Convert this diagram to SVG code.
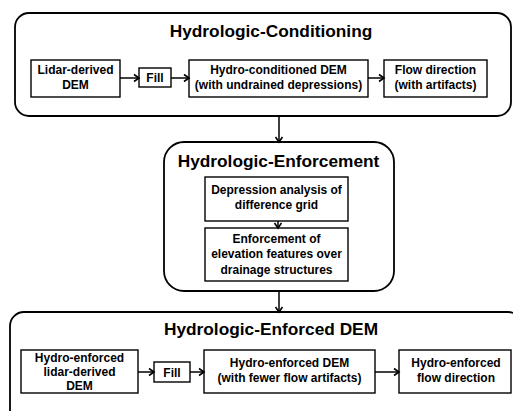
<svg xmlns="http://www.w3.org/2000/svg" width="513" height="411" viewBox="0 0 513 411">
<defs>
<marker id="ah" markerWidth="10" markerHeight="10" refX="8" refY="5" orient="auto" markerUnits="userSpaceOnUse">
<path d="M3,1.5 L8,5 L3,8.5" fill="none" stroke="#000" stroke-width="1.6"/>
</marker>
</defs>
<style>
.cont{fill:#fff;stroke:#000;stroke-width:1.8}
.box{fill:#fff;stroke:#000;stroke-width:1.4}
.t{font-family:"Liberation Sans",Arial,sans-serif;font-weight:bold;font-size:12px;text-anchor:middle;fill:#000}
.h{font-family:"Liberation Sans",Arial,sans-serif;font-weight:bold;font-size:17.3px;text-anchor:middle;fill:#000}
.c{fill:none;stroke:#000;stroke-width:1.5;marker-end:url(#ah)}
</style>
<rect width="513" height="411" fill="#fff"/>
<g id="hydrologic-conditioning">
<rect class="cont" x="15" y="13" width="496" height="103" rx="14"/>
<text class="h" x="271" y="37">Hydrologic-Conditioning</text>
</g>
<g id="lidar-dem">
<rect class="box" x="31" y="60" width="89" height="37"/>
<text class="t" x="75.5" y="74">Lidar-derived</text>
<text class="t" x="75.5" y="89">DEM</text>
</g>
<g id="fill1">
<rect class="box" x="139" y="68" width="32" height="19"/>
<text class="t" x="155" y="82">Fill</text>
</g>
<g id="hydro-conditioned-dem">
<rect class="box" x="189" y="60" width="179" height="37"/>
<text class="t" x="278.5" y="74">Hydro-conditioned DEM</text>
<text class="t" x="278.5" y="89">(with undrained depressions)</text>
</g>
<g id="flow-direction1">
<rect class="box" x="384" y="60" width="103" height="37"/>
<text class="t" x="435.5" y="74">Flow direction</text>
<text class="t" x="435.5" y="89">(with artifacts)</text>
</g>
<g id="hydrologic-enforcement">
<rect class="cont" x="164" y="142" width="230" height="149" rx="20"/>
<text class="h" x="278.5" y="167">Hydrologic-Enforcement</text>
</g>
<g id="depression-analysis">
<rect class="box" x="205" y="177" width="143" height="44"/>
<text class="t" x="276.5" y="194">Depression analysis of</text>
<text class="t" x="276.5" y="209">difference grid</text>
</g>
<g id="enforcement">
<rect class="box" x="205" y="228" width="143" height="53"/>
<text class="t" x="276.5" y="243">Enforcement of</text>
<text class="t" x="276.5" y="258">elevation features over</text>
<text class="t" x="276.5" y="274">drainage structures</text>
</g>
<g id="hydrologic-enforced-dem">
<rect class="cont" x="10" y="312" width="512" height="112" rx="14"/>
<text class="h" x="271" y="335">Hydrologic-Enforced DEM</text>
</g>
<g id="hydro-enforced-lidar">
<rect class="box" x="21" y="350" width="117" height="43"/>
<text class="t" x="79.5" y="362">Hydro-enforced</text>
<text class="t" x="79.5" y="376">lidar-derived</text>
<text class="t" x="79.5" y="390">DEM</text>
</g>
<g id="fill2">
<rect class="box" x="154" y="362" width="36" height="20"/>
<text class="t" x="172" y="376.5">Fill</text>
</g>
<g id="hydro-enforced-dem">
<rect class="box" x="204" y="350" width="171" height="43"/>
<text class="t" x="289.5" y="367">Hydro-enforced DEM</text>
<text class="t" x="289.5" y="382">(with fewer flow artifacts)</text>
</g>
<g id="hydro-enforced-flow">
<rect class="box" x="399" y="350" width="112" height="43"/>
<text class="t" x="456" y="367">Hydro-enforced</text>
<text class="t" x="456" y="382">flow direction</text>
</g>
<g id="connectors">
<line class="c" x1="120" y1="78" x2="139" y2="78"/>
<line class="c" x1="171" y1="78" x2="189" y2="78"/>
<line class="c" x1="368" y1="78" x2="384" y2="78"/>
<line class="c" x1="279" y1="116" x2="279" y2="142"/>
<line class="c" x1="278" y1="221" x2="278" y2="228"/>
<line class="c" x1="279" y1="291" x2="279" y2="312"/>
<line class="c" x1="138" y1="372" x2="154" y2="372"/>
<line class="c" x1="190" y1="372" x2="204" y2="372"/>
<line class="c" x1="375" y1="372" x2="399" y2="372"/>
</g>
</svg>
